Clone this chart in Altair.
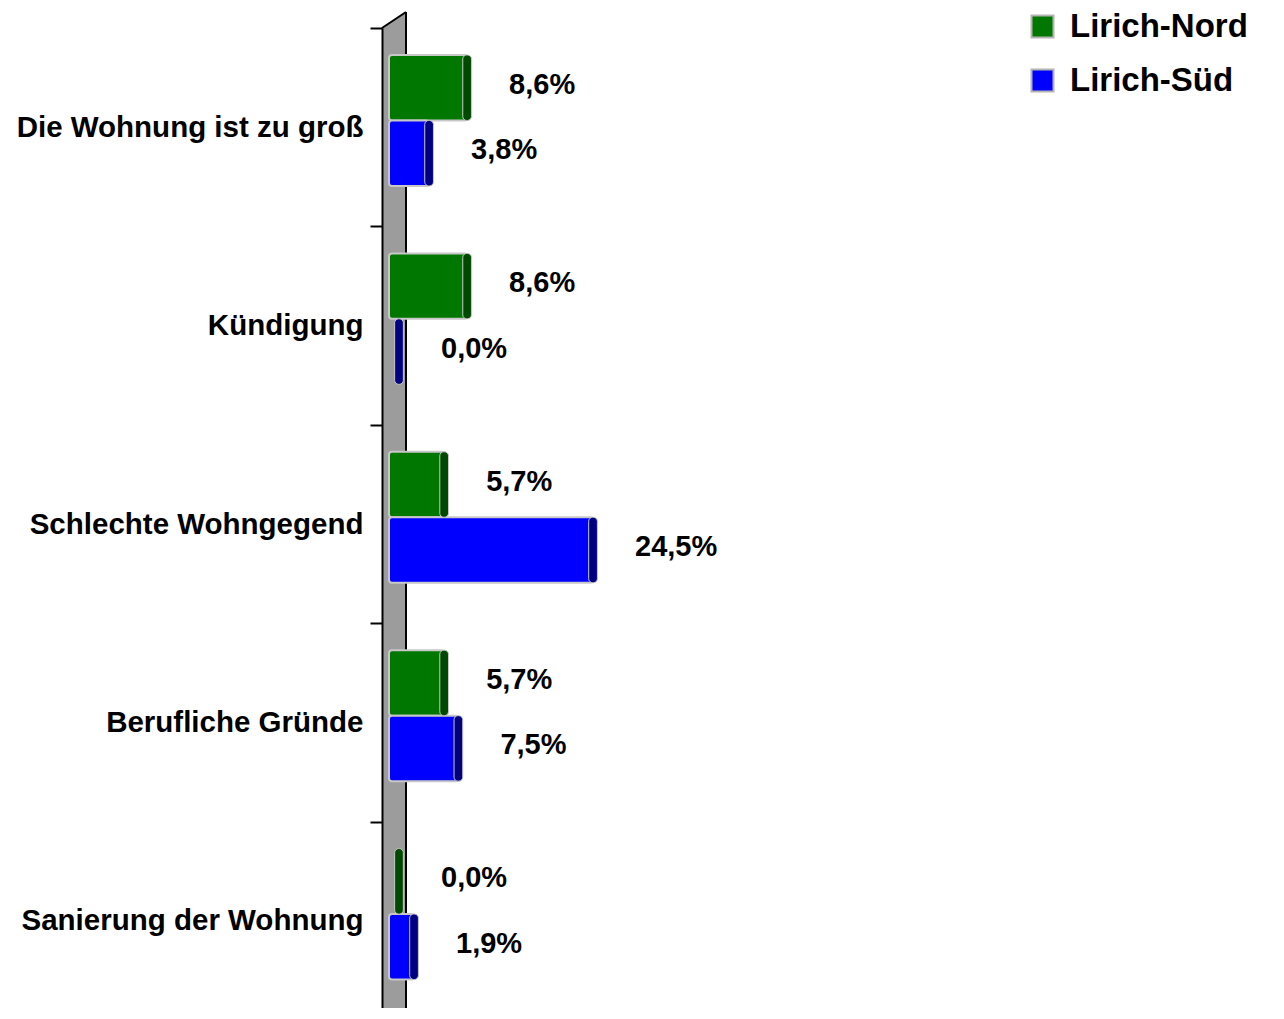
import altair as alt
import pandas as pd

# ---- data ----
categories = ["Die Wohnung ist zu groß", "Kündigung", "Schlechte Wohngegend",
              "Berufliche Gründe", "Sanierung der Wohnung"]
series = ["Lirich-Nord", "Lirich-Süd"]
nord = [8.6, 8.6, 5.7, 5.7, 0.0]
sued = [3.8, 0.0, 24.5, 7.5, 1.9]

rows = []
for c, n, s in zip(categories, nord, sued):
    rows.append({"category": c, "series": series[0], "value": n})
    rows.append({"category": c, "series": series[1], "value": s})
df = pd.DataFrame(rows)

# ---- layout / style ----
PX = 7.92          # pixels per percent
ZERO = 17          # pixel of 0 % inside plot
BAR_START = 7      # pixel where the bar bodies begin (in front of the wall)
W = 792
H = 980
H_RANGE = 992
xdom = [-ZERO / PX, (W - ZERO) / PX]
FONT = "Liberation Sans"
WALL = "#9c9c9c"

x_scale = alt.Scale(domain=xdom, nice=False, zero=False)
y_enc = alt.Y(
    "category:N", sort=categories,
    scale=alt.Scale(range=[0, H_RANGE], paddingInner=0, paddingOuter=0),
    axis=alt.Axis(title=None, labelFontSize=29.5, labelFont=FONT, labelFontWeight="bold",
                  labelColor="black", labelPadding=7, labelLimit=400, tickSize=12,
                  tickColor="black", tickWidth=2, tickBand="extent",
                  domainColor="black", domainWidth=2, zindex=1))
yoff = alt.YOffset("series:N", sort=series,
                   scale=alt.Scale(paddingInner=0, paddingOuter=0.515, align=0.4))

one = alt.Data(values=[{"a": 1}])
wall = alt.Chart(one).mark_rect(color=WALL).encode(
    x=alt.value(0), x2=alt.value(24), y=alt.value(0), y2=alt.value(H_RANGE))
tri = alt.Chart(one).mark_point(
    shape="M -1 0.6667 L 1 -0.6667 L 1 0.6667 Z", size=576, filled=True,
    color=WALL, opacity=1, strokeWidth=0).encode(x=alt.value(12), y=alt.value(-8))
edge_right = alt.Chart(one).mark_rule(color="black", strokeWidth=2).encode(
    x=alt.value(24), y=alt.value(-16), y2=alt.value(H_RANGE))
slant = alt.Chart(one).mark_rule(color="black", strokeWidth=2).encode(
    x=alt.value(0), x2=alt.value(24), y=alt.value(0), y2=alt.value(-16))

base = alt.Chart(df)
body = base.transform_filter("datum.value > 0").transform_calculate(
    start=str((BAR_START - ZERO) / PX)
).mark_bar(stroke="#c8c8c8", strokeWidth=2, cornerRadius=3).encode(
    x=alt.X("start:Q", scale=x_scale, axis=None),
    x2="value:Q",
    y=y_enc, yOffset=yoff,
    color=alt.Color("series:N", sort=series,
                    scale=alt.Scale(domain=series, range=["#007800", "#0000ff"]),
                    legend=alt.Legend(title=None, orient="none", legendX=644, legendY=-18,
                                      symbolType="square", symbolSize=484,
                                      symbolStrokeColor="#b4b4b4", symbolStrokeWidth=2,
                                      labelFontSize=33, labelFont=FONT, labelFontWeight="bold",
                                      labelColor="black", labelOffset=11, rowPadding=20,
                                      padding=0, labelLimit=400)))
cap = base.transform_calculate(
    c0="datum.value - 0.55", c1="datum.value + 0.55"
).mark_bar(cornerRadius=4, stroke="#c8c8c8", strokeWidth=1).encode(
    x=alt.X("c0:Q", scale=x_scale, axis=None), x2="c1:Q",
    y=y_enc, yOffset=yoff,
    color=alt.Color("series:N", sort=series,
                    scale=alt.Scale(domain=series, range=["#004a00", "#000080"]),
                    legend=None))
labels = base.transform_calculate(
    label="replace(format(datum.value, '.1f'), '.', ',') + '%'"
).mark_text(align="left", baseline="middle", dx=42, dy=-3, font=FONT,
            fontWeight="bold", fontSize=29, color="black").encode(
    x=alt.X("value:Q", scale=x_scale, axis=None),
    y=y_enc, yOffset=yoff, text="label:N")

chart = alt.layer(wall, tri, edge_right, slant, body, cap, labels).resolve_scale(
    color="independent"
).properties(
    width=W, height=H,
    autosize=alt.AutoSizeParams(type="none"),
    padding={"left": 374, "top": 20, "right": 100, "bottom": 0},
    background="white",
).configure_view(stroke=None)

chart.save("out.html", embed_options={"renderer": "svg", "actions": False})
